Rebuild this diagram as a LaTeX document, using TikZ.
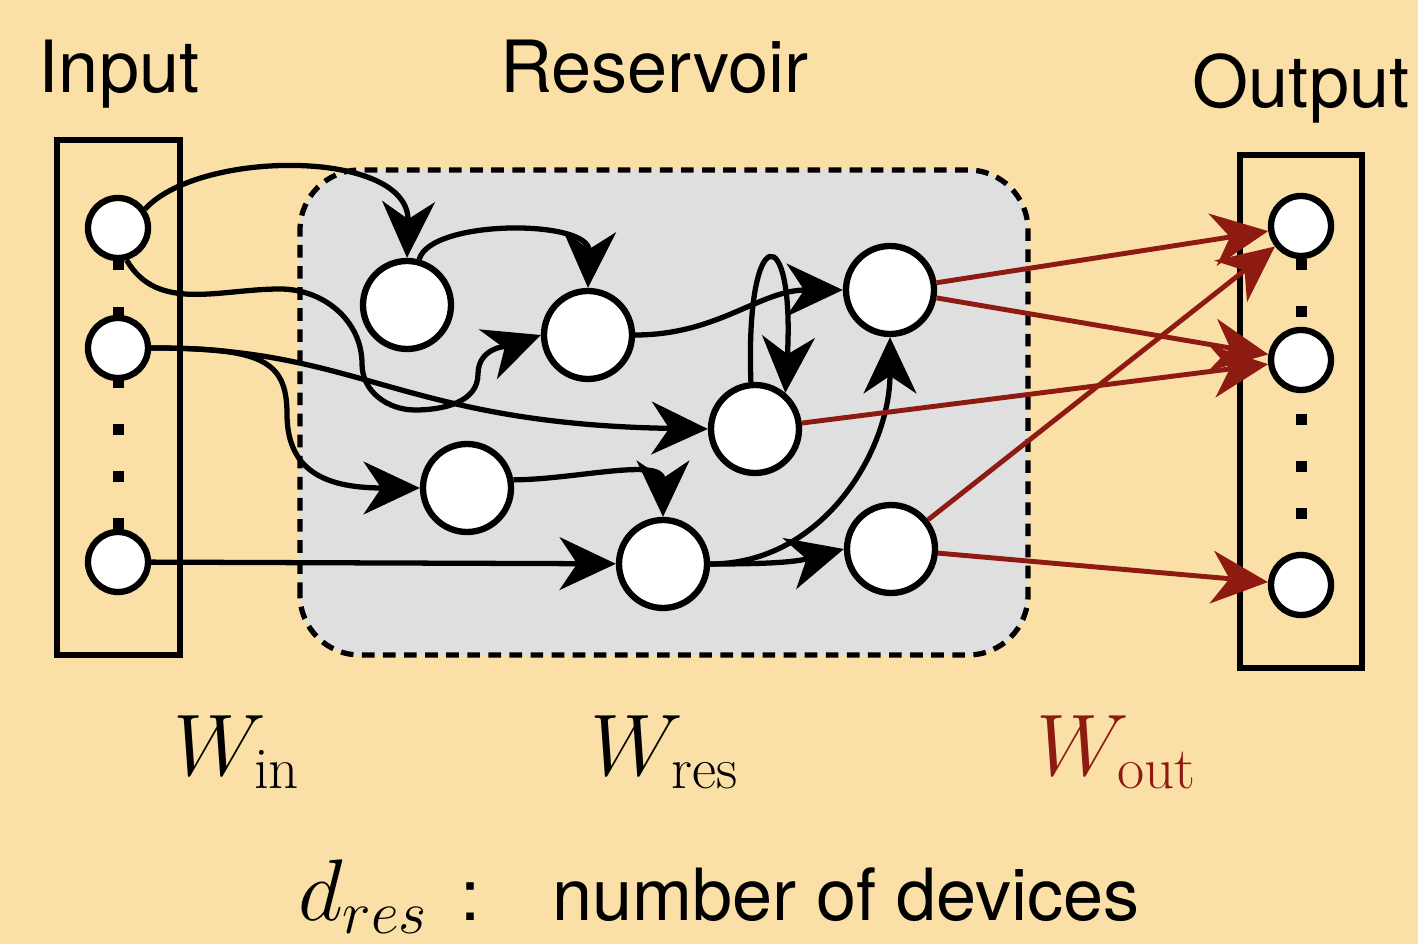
\documentclass[tikz,border=0pt]{standalone}
\usepackage{fontspec}
\setsansfont{TeX Gyre Heros}
\usetikzlibrary{arrows.meta}
\definecolor{peach}{RGB}{250,223,166}
\definecolor{resgray}{RGB}{223,223,223}
\definecolor{wred}{RGB}{142,27,18}
\tikzset{
	unit/.style={circle,draw,fill=white,line width=1.8pt,minimum size=0.6cm,inner sep=0pt},
	cell/.style={circle,draw,fill=white,line width=1.8pt,minimum size=0.88cm,inner sep=0pt},
	link/.style={->,line width=1.5pt},
	readout/.style={->,line width=1.4pt,draw=wred,fill=wred},
	title/.style={font=\sffamily\fontsize{20.5}{24}\selectfont,anchor=base,inner sep=0pt},
	wlabel/.style={font=\fontsize{24}{28}\selectfont,anchor=base,inner sep=0pt}
}
\begin{document}
\begin{tikzpicture}[>={Stealth[length=16pt,width=15pt,inset=5pt]}]
	
	\useasboundingbox (0,0) rectangle (14.18,9.44);
	\fill[peach] (0,0) rectangle (14.18,9.44);
	\draw[line width=1.6pt] (0.57,2.89) rectangle (1.80,8.04);
	\draw[line width=1.6pt] (12.40,2.76) rectangle (13.62,7.89);
	\draw[fill=resgray,line width=1.5pt,dash pattern=on 3.6pt off 2.4pt,rounded corners=0.6cm] (3.00,2.89) rectangle (10.28,7.74);
	\foreach \y in {6.79,6.31,5.61,5.14,4.67,4.20}
		\fill (1.18,\y) +(-0.055,-0.055) rectangle +(0.055,0.055);
	\foreach \y in {6.79,6.32,5.24,4.77,4.30}
		\fill (13.01,\y) +(-0.055,-0.055) rectangle +(0.055,0.055);
	\node[unit] (i1) at (1.18,7.16) {};
	\node[unit] (i2) at (1.18,5.96) {};
	\node[unit] (i3) at (1.18,3.82) {};
	\node[unit] (o1) at (13.01,7.18) {};
	\node[unit] (o2) at (13.01,5.84) {};
	\node[unit] (o3) at (13.01,3.59) {};
	\node[cell] (r1) at (4.07,6.39) {};
	\node[cell] (r2) at (5.88,6.09) {};
	\node[cell] (r3) at (8.90,6.54) {};
	\node[cell] (r4) at (7.55,5.15) {};
	\node[cell] (r5) at (4.67,4.56) {};
	\node[cell] (r6) at (6.63,3.80) {};
	\node[cell] (r7) at (8.91,3.95) {};
	
	\draw[link] (i1.35) .. controls (2.0,7.95) and (4.1,7.95) .. (r1.north);
	\draw[link] (r1.75) .. controls (4.3,7.25) and (5.9,7.25) .. (r2.north);
	\draw[link] (i1.-75) to[out=-60,in=180] (2.8,6.55) to[out=0,in=90] (3.62,5.8) to[out=-90,in=180] (4.15,5.34) to[out=0,in=-90] (4.78,5.7) to[out=90,in=200] (r2.west);
	\draw[link] (i2.east) .. controls (3.6,5.97) and (4.0,5.2) .. (r4.west);
	\draw[link] (i2.east) .. controls (2.6,5.96) and (2.87,5.85) .. (2.87,5.3) .. controls (2.87,4.7) and (3.3,4.56) .. (r5.west);
	\draw[link] (i3) -- (r6);
	\draw[link] (r5.10) to[out=0,in=90] (r6.north);
	\draw[link] (r2.east) to[out=0,in=180] (r3.west);
	\draw[link] (r4.95) .. controls (7.45,7.25) and (7.95,7.25) .. (r4.50);
	\draw[link] (r6.east) to[out=0,in=195] (r7.west);
	\draw[link] (r6.east) to[out=0,in=-90] (r3.south);
	
	\draw[readout] (r3) -- (o1);
	\draw[readout] (r3) -- (o2);
	\draw[readout] (r4) -- (o2);
	\draw[readout] (r7) -- (o1);
	\draw[readout] (r7) -- (o3);
	
	\node[title] (tin) at (1.19,8.51) {Input};
	\node[title] (tres) at (6.545,8.51) {Reservoir};
	\node[title] (tout) at (13.01,8.36) {Output};
	\node[wlabel] (win) at (2.37,1.69) {$W_{\mathrm{in}}$};
	\node[wlabel] (wres) at (6.65,1.69) {$W_{\mathrm{res}}$};
	\node[wlabel,text=wred] (wout) at (11.17,1.69) {$W_{\mathrm{out}}$};
	\node[wlabel] (dres) at (7.19,0.24) {$d_{res}$\hspace{9pt}{\sffamily\fontsize{20.5}{24}\selectfont :\quad number of devices}};
\end{tikzpicture}
\end{document}
